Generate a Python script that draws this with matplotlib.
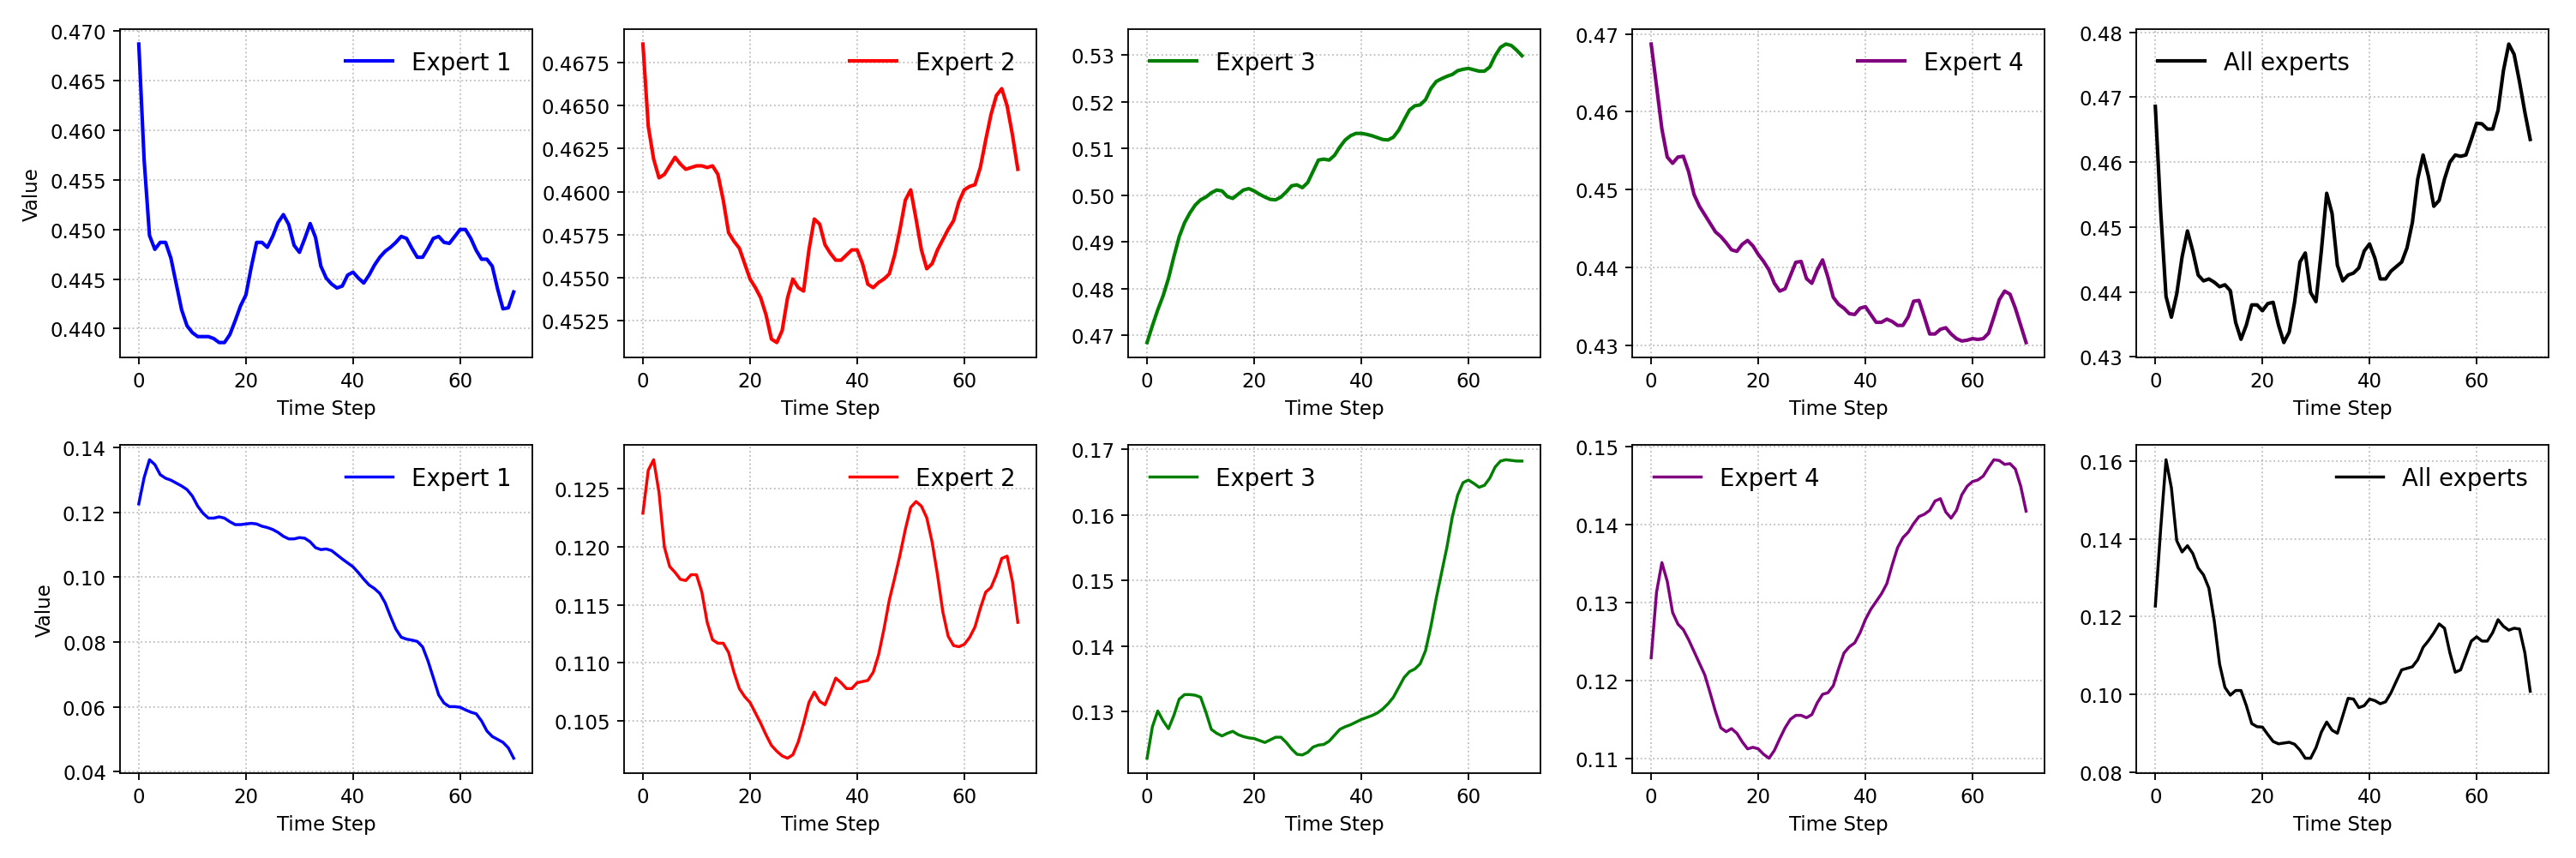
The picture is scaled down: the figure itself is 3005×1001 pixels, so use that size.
import numpy as np
import matplotlib
matplotlib.use("Agg")
import matplotlib.pyplot as plt

# time steps 0..70
steps = np.arange(71)

labels = ["Expert 1", "Expert 2", "Expert 3", "Expert 4", "All experts"]
colors = ["blue", "red", "green", "purple", "black"]

top_e1 = [0.4687, 0.4570, 0.4494, 0.4480, 0.4487, 0.4487, 0.4471, 0.4445, 0.4419, 0.4403,
          0.4396, 0.4392, 0.4392, 0.4392, 0.4390, 0.4386, 0.4386, 0.4394, 0.4408, 0.4423,
          0.4434, 0.4462, 0.4487, 0.4487, 0.4482, 0.4493, 0.4507, 0.4515, 0.4505, 0.4484,
          0.4477, 0.4491, 0.4506, 0.4492, 0.4463, 0.4451, 0.4445, 0.4441, 0.4443, 0.4454,
          0.4457, 0.4451, 0.4446, 0.4454, 0.4464, 0.4472, 0.4478, 0.4482, 0.4487, 0.4493,
          0.4491, 0.4481, 0.4472, 0.4472, 0.4481, 0.4491, 0.4493, 0.4487, 0.4486, 0.4493,
          0.4500, 0.4500, 0.4491, 0.4479, 0.4470, 0.4470, 0.4463, 0.4440, 0.4420, 0.4421,
          0.4437]
top_e2 = [0.4686, 0.4638, 0.4619, 0.4608, 0.4610, 0.4615, 0.4620, 0.4616, 0.4613, 0.4614,
          0.4615, 0.4615, 0.4614, 0.4615, 0.4610, 0.4595, 0.4576, 0.4571, 0.4567, 0.4558,
          0.4549, 0.4544, 0.4538, 0.4528, 0.4514, 0.4512, 0.4519, 0.4538, 0.4549, 0.4544,
          0.4542, 0.4566, 0.4584, 0.4581, 0.4569, 0.4564, 0.4560, 0.4560, 0.4563, 0.4566,
          0.4566, 0.4558, 0.4546, 0.4544, 0.4547, 0.4549, 0.4552, 0.4563, 0.4578, 0.4595,
          0.4601, 0.4584, 0.4566, 0.4555, 0.4558, 0.4566, 0.4572, 0.4578, 0.4583, 0.4594,
          0.4601, 0.4603, 0.4604, 0.4614, 0.4630, 0.4645, 0.4656, 0.4660, 0.4650, 0.4633,
          0.4613]
top_e3 = [0.4685, 0.4721, 0.4755, 0.4785, 0.4822, 0.4868, 0.4911, 0.4941, 0.4962, 0.4979,
          0.4990, 0.4996, 0.5005, 0.5011, 0.5009, 0.4997, 0.4993, 0.5002, 0.5011, 0.5014,
          0.5009, 0.5002, 0.4996, 0.4991, 0.4990, 0.4996, 0.5007, 0.5020, 0.5022, 0.5016,
          0.5027, 0.5051, 0.5075, 0.5077, 0.5075, 0.5085, 0.5103, 0.5118, 0.5127, 0.5132,
          0.5132, 0.5130, 0.5127, 0.5123, 0.5119, 0.5118, 0.5124, 0.5139, 0.5161, 0.5182,
          0.5191, 0.5193, 0.5204, 0.5228, 0.5243, 0.5249, 0.5254, 0.5258, 0.5266, 0.5269,
          0.5271, 0.5268, 0.5265, 0.5265, 0.5274, 0.5298, 0.5316, 0.5323, 0.5320, 0.5310,
          0.5298]
top_e4 = [0.4687, 0.4633, 0.4578, 0.4542, 0.4534, 0.4542, 0.4543, 0.4523, 0.4494, 0.4479,
          0.4468, 0.4457, 0.4446, 0.4440, 0.4432, 0.4423, 0.4421, 0.4430, 0.4435, 0.4428,
          0.4417, 0.4408, 0.4397, 0.4380, 0.4370, 0.4373, 0.4390, 0.4407, 0.4408, 0.4386,
          0.4380, 0.4397, 0.4410, 0.4388, 0.4362, 0.4353, 0.4348, 0.4341, 0.4340, 0.4348,
          0.4350, 0.4340, 0.4330, 0.4330, 0.4334, 0.4331, 0.4326, 0.4326, 0.4337, 0.4357,
          0.4358, 0.4337, 0.4315, 0.4315, 0.4321, 0.4323, 0.4315, 0.4309, 0.4306, 0.4307,
          0.4309, 0.4308, 0.4309, 0.4316, 0.4337, 0.4359, 0.4370, 0.4366, 0.4348, 0.4326,
          0.4304]
top_all = [0.4686, 0.4525, 0.4393, 0.4361, 0.4397, 0.4454, 0.4494, 0.4463, 0.4426, 0.4417,
           0.4420, 0.4415, 0.4408, 0.4411, 0.4402, 0.4353, 0.4327, 0.4349, 0.4380, 0.4380,
           0.4371, 0.4382, 0.4384, 0.4349, 0.4322, 0.4338, 0.4384, 0.4446, 0.4460, 0.4399,
           0.4385, 0.4463, 0.4552, 0.4521, 0.4441, 0.4417, 0.4426, 0.4429, 0.4437, 0.4463,
           0.4474, 0.4452, 0.4420, 0.4420, 0.4432, 0.4439, 0.4446, 0.4468, 0.4507, 0.4574,
           0.4611, 0.4578, 0.4532, 0.4541, 0.4574, 0.4600, 0.4611, 0.4609, 0.4611, 0.4635,
           0.4660, 0.4659, 0.4651, 0.4651, 0.4680, 0.4741, 0.4782, 0.4766, 0.4724, 0.4677,
           0.4635]

bot_e1 = [0.1226, 0.1307, 0.1362, 0.1347, 0.1316, 0.1305, 0.1299, 0.1290, 0.1281, 0.1270,
          0.1250, 0.1219, 0.1197, 0.1182, 0.1182, 0.1186, 0.1182, 0.1171, 0.1162, 0.1162,
          0.1164, 0.1166, 0.1164, 0.1157, 0.1153, 0.1147, 0.1138, 0.1126, 0.1118, 0.1118,
          0.1122, 0.1120, 0.1109, 0.1091, 0.1085, 0.1087, 0.1082, 0.1069, 0.1056, 0.1044,
          0.1032, 0.1014, 0.0994, 0.0976, 0.0965, 0.0950, 0.0921, 0.0879, 0.0840, 0.0815,
          0.0809, 0.0806, 0.0802, 0.0785, 0.0742, 0.0690, 0.0637, 0.0612, 0.0601, 0.0601,
          0.0599, 0.0591, 0.0584, 0.0579, 0.0557, 0.0526, 0.0509, 0.0500, 0.0491, 0.0474,
          0.0442]
bot_e2 = [0.1229, 0.1266, 0.1275, 0.1247, 0.1200, 0.1183, 0.1178, 0.1172, 0.1171, 0.1176,
          0.1176, 0.1161, 0.1135, 0.1120, 0.1117, 0.1117, 0.1109, 0.1092, 0.1078, 0.1071,
          0.1066, 0.1057, 0.1048, 0.1038, 0.1029, 0.1024, 0.1020, 0.1018, 0.1021, 0.1032,
          0.1048, 0.1066, 0.1075, 0.1067, 0.1064, 0.1075, 0.1087, 0.1083, 0.1078, 0.1078,
          0.1083, 0.1084, 0.1085, 0.1092, 0.1107, 0.1129, 0.1154, 0.1173, 0.1193, 0.1215,
          0.1234, 0.1239, 0.1235, 0.1225, 0.1204, 0.1176, 0.1144, 0.1123, 0.1115, 0.1114,
          0.1116, 0.1122, 0.1131, 0.1147, 0.1161, 0.1165, 0.1176, 0.1190, 0.1192, 0.1170,
          0.1135]
bot_e3 = [0.1229, 0.1277, 0.1301, 0.1286, 0.1274, 0.1294, 0.1319, 0.1326, 0.1326, 0.1325,
          0.1322, 0.1299, 0.1273, 0.1267, 0.1263, 0.1267, 0.1270, 0.1265, 0.1262, 0.1260,
          0.1259, 0.1256, 0.1253, 0.1257, 0.1261, 0.1261, 0.1253, 0.1243, 0.1235, 0.1234,
          0.1238, 0.1246, 0.1249, 0.1250, 0.1255, 0.1264, 0.1273, 0.1277, 0.1280, 0.1284,
          0.1288, 0.1291, 0.1294, 0.1298, 0.1304, 0.1312, 0.1322, 0.1337, 0.1352, 0.1361,
          0.1365, 0.1373, 0.1393, 0.1430, 0.1473, 0.1512, 0.1551, 0.1597, 0.1630, 0.1649,
          0.1653, 0.1648, 0.1642, 0.1645, 0.1656, 0.1673, 0.1682, 0.1684, 0.1683, 0.1682,
          0.1682]
bot_e4 = [0.1229, 0.1313, 0.1351, 0.1327, 0.1287, 0.1272, 0.1265, 0.1252, 0.1237, 0.1222,
          0.1207, 0.1184, 0.1160, 0.1139, 0.1134, 0.1138, 0.1132, 0.1121, 0.1112, 0.1114,
          0.1112, 0.1105, 0.1100, 0.1110, 0.1125, 0.1139, 0.1150, 0.1155, 0.1155, 0.1152,
          0.1156, 0.1171, 0.1182, 0.1184, 0.1193, 0.1215, 0.1235, 0.1243, 0.1248, 0.1261,
          0.1278, 0.1291, 0.1301, 0.1311, 0.1324, 0.1348, 0.1370, 0.1383, 0.1390, 0.1401,
          0.1410, 0.1413, 0.1418, 0.1430, 0.1433, 0.1416, 0.1408, 0.1418, 0.1438, 0.1449,
          0.1455, 0.1457, 0.1462, 0.1473, 0.1483, 0.1482, 0.1477, 0.1478, 0.1471, 0.1449,
          0.1417]
bot_all = [0.1227, 0.1425, 0.1603, 0.1531, 0.1395, 0.1366, 0.1382, 0.1362, 0.1325, 0.1307,
           0.1273, 0.1189, 0.1078, 0.1018, 0.0998, 0.1010, 0.1010, 0.0971, 0.0925, 0.0917,
           0.0916, 0.0897, 0.0879, 0.0873, 0.0875, 0.0877, 0.0872, 0.0857, 0.0836, 0.0836,
           0.0863, 0.0903, 0.0929, 0.0908, 0.0900, 0.0945, 0.0990, 0.0988, 0.0966, 0.0971,
           0.0988, 0.0984, 0.0976, 0.0981, 0.1004, 0.1034, 0.1063, 0.1067, 0.1071, 0.1089,
           0.1121, 0.1138, 0.1158, 0.1181, 0.1170, 0.1107, 0.1057, 0.1063, 0.1100, 0.1137,
           0.1148, 0.1137, 0.1137, 0.1159, 0.1192, 0.1175, 0.1165, 0.1170, 0.1168, 0.1107,
           0.1008]

rows = [
    [top_e1, top_e2, top_e3, top_e4, top_all],
    [bot_e1, bot_e2, bot_e3, bot_e4, bot_all],
]
legend_locs = [
    ["upper right", "upper right", "upper left", "upper right", "upper left"],
    ["upper right", "upper right", "upper left", "upper left", "upper right"],
]
line_widths = [1.8, 1.5]

fig, axes = plt.subplots(2, 5, figsize=(3005 / 165, 1002 / 165), dpi=165)
fig.subplots_adjust(left=0.0466, right=0.9895, bottom=0.0988, top=0.9651,
                    wspace=0.2225, hspace=0.266)

for r, series_row in enumerate(rows):
    for c, values in enumerate(series_row):
        ax = axes[r, c]
        ax.plot(steps, values, color=colors[c], linewidth=line_widths[r], label=labels[c])
        ax.set_xlabel("Time Step", fontsize=10)
        if c == 0:
            ax.set_ylabel("Value", fontsize=10)
        ax.tick_params(labelsize=10)
        ax.grid(True, linestyle=":", color="#b0b0b0", alpha=0.8, linewidth=0.8)
        ax.legend(loc=legend_locs[r][c], frameon=False, fontsize=12)

fig.savefig("out.png", dpi=165)
